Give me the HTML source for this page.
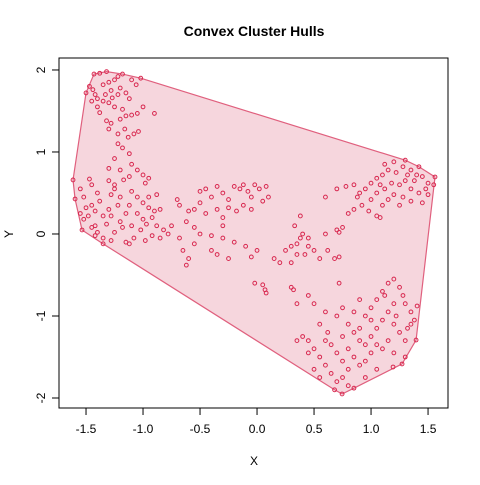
<!DOCTYPE html>
<html><head><meta charset="utf-8"><style>
body{margin:0;background:#fff}
svg text{font-family:"Liberation Sans",sans-serif}
</style></head><body>
<svg id="c" width="480" height="480"></svg>
<script>
const xs=[-1.43,-1.32,-1.38,-1.5,-1.47,-1.44,-1.42,-1.40,-1.35,-1.30,-1.25,-1.22,-1.18,-1.02,-1.06,-1.1,-1.2,-1.28,-1.33,-1.27,-1.22,-1.15,-1.12,-1.3,-1.25,-1.35,-1.45,-1.4,-1.18,-1.1,-1.05,-1.0,-1.2,-1.32,-1.28,-1.16,-1.13,-1.08,-0.9,-1.3,-1.22,-1.04,-1.15,-1.38,
-1.18,-1.22,-1.25,-1.12,-1.3,-1.2,-1.1,-1.05,-1.0,-0.98,-1.12,-1.25,-0.95,-1.17,
-1.614,-1.596,-1.535,-1.55,-1.52,-1.47,-1.45,-1.4,-1.45,-1.5,-1.55,-1.48,-1.52,-1.42,-1.38,-1.35,-1.3,-1.32,-1.42,-1.45,-1.4,-1.35,-1.28,-1.25,-1.2,-1.15,-1.12,-1.2,-1.1,-1.05,-1.0,-0.95,-0.9,-0.85,-0.92,-1.0,-1.05,-1.1,-1.18,-1.02,-0.97,-0.88,-0.82,-0.78,-0.85,-0.92,-1.08,-1.15,-1.22,-1.28,-1.25,-1.3,-0.95,-0.88,-1.35,-0.98,-1.12,-0.75,-1.42,-1.28,
-0.7,-0.68,-0.6,-0.62,-0.55,-0.5,-0.45,-0.4,-0.35,-0.3,-0.25,-0.2,-0.15,-0.12,-0.08,-0.02,0.02,0.08,-0.05,-0.5,-0.45,-0.35,-0.3,-0.25,-0.18,-0.12,-0.05,0.05,-0.55,-0.5,-0.4,-0.3,-0.2,-0.68,-0.65,-0.6,-0.62,-0.55,-0.4,-0.35,-0.1,0.0,-0.05,-0.25,-0.02,0.05,0.07,0.08,-0.3,0.1,
0.15,0.2,0.25,0.3,0.35,0.38,0.4,0.33,0.45,0.5,0.42,0.55,0.3,0.35,0.38,0.45,0.6,0.62,0.68,0.72,0.6,0.7,
1.561,0.7,0.78,0.85,0.9,0.95,1.0,1.05,1.1,1.15,1.22,1.28,1.35,1.4,1.45,1.5,1.48,1.42,1.35,1.3,1.25,1.18,1.12,1.05,1.0,0.92,0.85,0.8,0.88,1.1,1.15,1.2,1.28,1.35,1.45,1.5,1.38,1.42,1.3,1.2,1.12,1.08,0.98,1.05,1.08,0.75,0.72,1.25,1.55,1.32,
0.746,1.193,1.272,1.395,1.404,0.3,0.32,0.45,0.5,0.6,0.55,0.62,0.7,0.75,0.8,0.85,0.9,0.95,1.0,1.05,1.1,1.15,1.2,1.25,1.28,1.3,1.35,1.2,1.15,1.1,1.05,1.0,0.95,1.2,1.25,1.3,1.35,1.38,0.4,0.45,0.5,0.55,0.6,0.65,0.7,0.75,0.8,0.85,0.65,0.7,0.75,0.8,0.85,0.9,0.95,1.0,1.05,1.1,1.15,1.2,1.3,0.35,0.5,0.45,0.6,0.9,0.85,1.12,1.0,0.75,0.55,0.95,1.05,0.68,0.9,1.22,1.32,0.8,0.72,0.35];
const ys=[1.95,1.98,1.96,1.72,1.8,1.76,1.70,1.65,1.82,1.85,1.88,1.92,1.95,1.90,1.82,1.88,1.78,1.75,1.70,1.66,1.70,1.72,1.65,1.60,1.55,1.62,1.62,1.55,1.52,1.45,1.47,1.55,1.40,1.38,1.35,1.28,1.18,1.22,1.47,1.28,1.22,1.25,1.44,1.48,
1.05,1.1,0.92,0.98,0.8,0.78,0.85,0.78,0.72,0.62,0.7,0.55,0.68,0.66,
0.659,0.427,0.049,0.55,0.45,0.67,0.6,0.5,0.35,0.32,0.25,0.22,0.18,0.28,0.4,0.22,0.3,0.12,0.1,0.08,0.02,-0.05,-0.08,0.02,0.15,0.25,0.35,0.45,0.52,0.45,0.38,0.32,0.28,0.3,0.2,0.18,0.25,0.1,0.08,0.05,0.12,0.1,0.05,0.0,-0.05,-0.02,-0.05,-0.1,0.35,0.48,0.6,0.65,0.45,0.48,-0.12,-0.08,-0.12,0.1,-0.02,0.22,
0.42,0.35,0.28,0.15,0.3,0.52,0.55,0.45,0.58,0.5,0.42,0.58,0.55,0.6,0.52,0.6,0.55,0.58,0.45,0.38,0.25,0.3,0.2,0.32,0.28,0.35,0.3,0.4,0.08,0.0,-0.02,-0.05,-0.1,-0.05,-0.2,-0.3,-0.38,-0.12,-0.2,-0.25,-0.15,-0.2,-0.28,-0.3,-0.6,-0.62,-0.68,-0.72,0.1,0.45,
-0.3,-0.35,-0.2,-0.15,-0.12,-0.05,0.0,0.1,-0.15,-0.2,-0.25,-0.3,-0.35,-0.25,0.22,-0.05,0.0,-0.2,-0.3,-0.28,0.45,0.05,
0.695,0.55,0.58,0.6,0.5,0.55,0.62,0.68,0.72,0.78,0.75,0.82,0.78,0.72,0.7,0.62,0.55,0.5,0.55,0.65,0.6,0.62,0.55,0.5,0.42,0.35,0.3,0.25,0.45,0.35,0.42,0.48,0.45,0.4,0.38,0.48,0.65,0.82,0.9,0.88,0.85,0.6,0.28,0.22,0.2,0.08,0.02,0.35,0.6,0.72,
-1.951,-1.622,-1.585,-1.293,-0.878,-0.65,-0.68,-0.75,-0.85,-0.95,-1.1,-1.2,-1.0,-0.9,-1.1,-1.2,-1.3,-1.0,-0.9,-0.8,-0.7,-0.6,-0.55,-0.65,-0.75,-0.85,-0.95,-0.85,-0.95,-1.05,-1.15,-1.25,-1.35,-1.1,-1.2,-1.3,-1.1,-1.05,-1.25,-1.3,-1.4,-1.5,-1.6,-1.7,-1.8,-1.75,-1.85,-1.88,-1.35,-1.45,-1.55,-1.4,-1.5,-1.6,-1.55,-1.45,-1.35,-1.4,-1.3,-1.45,-1.5,-1.3,-1.65,-1.45,-1.3,-0.8,-0.95,-0.75,-1.05,-1.25,-1.75,-1.75,-1.65,-1.9,-1.15,-1.0,-1.15,-1.65,-0.6,-0.85];
const xTicks=[-1.5,-1.0,-0.5,0.0,0.5,1.0,1.5];
const xTickLabels=["-1.5","-1.0","-0.5","0.0","0.5","1.0","1.5"];
const yTicks=[-2,-1,0,1,2];
const yTickLabels=["-2","-1","0","1","2"];
const NS="http://www.w3.org/2000/svg";
const svg=document.getElementById('c');
const L=59,R=448,T=58,B=408;
const xMin=-1.737,xMax=1.675,yMin=-2.122,yMax=2.146;
const sx=v=>L+(v-xMin)/(xMax-xMin)*(R-L);
const sy=v=>B-(v-yMin)/(yMax-yMin)*(B-T);
function mk(tag,attrs,parent){const e=document.createElementNS(NS,tag);for(const k in attrs)e.setAttribute(k,attrs[k]);(parent||svg).appendChild(e);return e;}
// convex hull
const pts=xs.map((x,i)=>[x,ys[i]]).sort((a,b)=>a[0]-b[0]||a[1]-b[1]);
const cr=(o,a,b)=>(a[0]-o[0])*(b[1]-o[1])-(a[1]-o[1])*(b[0]-o[0]);
const lo=[],up=[];
for(const p of pts){while(lo.length>=2&&cr(lo[lo.length-2],lo[lo.length-1],p)<=0)lo.pop();lo.push(p);}
for(let i=pts.length-1;i>=0;i--){const p=pts[i];while(up.length>=2&&cr(up[up.length-2],up[up.length-1],p)<=0)up.pop();up.push(p);}
const hull=lo.slice(0,-1).concat(up.slice(0,-1));
const hp=mk('polygon',{points:hull.map(p=>sx(p[0])+','+sy(p[1])).join(' '),fill:'#f6d6dd',stroke:'#e0607e','stroke-width':1.2});


const g=mk('g',{});


xs.forEach((x,i)=>{const c=mk('circle',{cx:sx(x),cy:sy(ys[i]),r:1.9,fill:'none',stroke:'#d8284f','stroke-width':1},g);

});
const box=mk('rect',{x:L,y:T,width:R-L,height:B-T,fill:'none',stroke:'#000','stroke-width':1});


xTicks.forEach((t,i)=>{mk('line',{x1:sx(t),x2:sx(t),y1:B,y2:B+7,stroke:'#000'});
const tx=mk('text',{x:sx(t),y:B+25,'text-anchor':'middle','font-size':12});tx.textContent=xTickLabels[i];

});
mk('line',{x1:sx(xTicks[0]),x2:sx(xTicks[xTicks.length-1]),y1:B,y2:B,stroke:'#000'});
yTicks.forEach((t,i)=>{mk('line',{x1:L-7,x2:L,y1:sy(t),y2:sy(t),stroke:'#000'});
const tx=mk('text',{x:L-14,y:sy(t),'text-anchor':'middle','font-size':12,transform:`rotate(-90 ${L-14} ${sy(t)})`});tx.textContent=yTickLabels[i];

});
mk('line',{x1:L,x2:L,y1:sy(yTicks[0]),y2:sy(yTicks[yTicks.length-1]),stroke:'#000'});
const ti=mk('text',{x:254,y:36,'text-anchor':'middle','font-size':14,'font-weight':'bold'});ti.textContent='Convex Cluster Hulls';


const xl=mk('text',{x:254,y:465,'text-anchor':'middle','font-size':12});xl.textContent='X';


const yl=mk('text',{x:13,y:234,'text-anchor':'middle','font-size':12,transform:'rotate(-90 13 234)'});yl.textContent='Y';


</script>
</body></html>
